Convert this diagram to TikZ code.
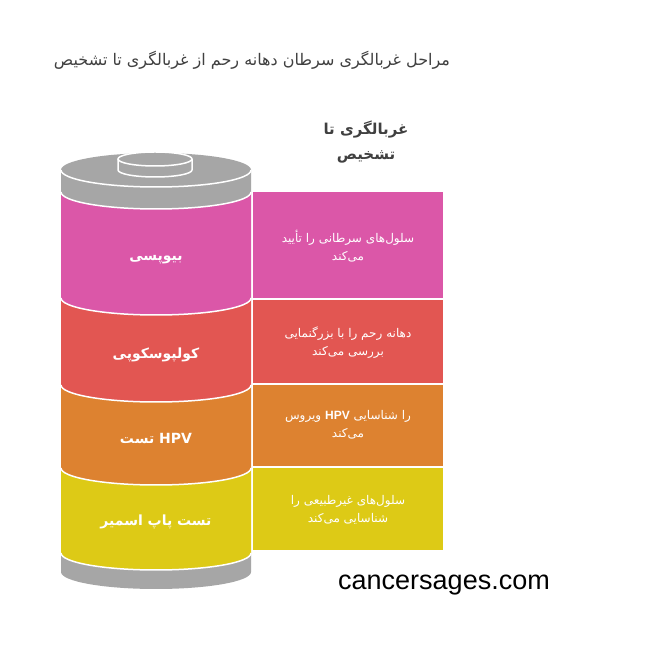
\documentclass[tikz,border=0pt]{standalone}
\usepackage{fontspec}
\setmainfont{Liberation Sans}
\TeXXeTstate=1
\newfontfamily\arabicfont[Script=Arabic]{DejaVu Sans}
\newcommand\rw[1]{\beginR #1\endR}
\definecolor{cpink}{RGB}{219,87,168}
\definecolor{cred}{RGB}{226,86,82}
\definecolor{corange}{RGB}{221,130,48}
\definecolor{cyellow}{RGB}{221,202,22}
\definecolor{cgrey}{RGB}{166,166,166}
\definecolor{ctitle}{RGB}{64,64,64}
\tikzset{
  seglabel/.style={text=white, font=\arabicfont\bfseries\fontsize{14}{18}\selectfont, align=center},
  boxtext/.style={text=white, font=\arabicfont\fontsize{12}{18}\selectfont, align=center},
  whiteline/.style={draw=white, line width=1.5pt},
  ell/.style={x radius=95pt, y radius=17pt},
  kell/.style={x radius=37pt, y radius=7pt}
}
\begin{document}
\begin{tikzpicture}[x=1pt,y=1pt]
\useasboundingbox (0,0) rectangle (664,666);
\fill[white] (0,0) rectangle (664,666);
% title
\node[text=ctitle, font=\arabicfont\fontsize{16}{18}\selectfont] (title) at (252,606)
  {\rw{تشخیص} \rw{تا} \rw{غربالگری} \rw{از} \rw{رحم} \rw{دهانه} \rw{سرطان} \rw{غربالگری} \rw{مراحل}};
\node[text=ctitle, font=\arabicfont\bfseries\fontsize{15}{25}\selectfont, align=center] (head) at (366,523.5)
  {\rw{تا} \rw{غربالگری}\\\rw{تشخیص}};
% cylinder segments
\fill[cgrey] (61,496) -- (61,474) arc[start angle=180,end angle=360,ell] -- (251,496) -- cycle;
\fill[cgrey] (156,496) ellipse[ell];
\fill[cpink] (61,474) arc[start angle=180,end angle=360,ell] -- (251,368) arc[start angle=0,end angle=-180,ell] -- cycle;
\fill[cred] (61,368) arc[start angle=180,end angle=360,ell] -- (251,281) arc[start angle=0,end angle=-180,ell] -- cycle;
\fill[corange] (61,281) arc[start angle=180,end angle=360,ell] -- (251,198) arc[start angle=0,end angle=-180,ell] -- cycle;
\fill[cyellow] (61,198) arc[start angle=180,end angle=360,ell] -- (251,113) arc[start angle=0,end angle=-180,ell] -- cycle;
\fill[cgrey] (61,113) arc[start angle=180,end angle=360,ell] -- (251,94) arc[start angle=0,end angle=-180,ell] -- cycle;
\foreach \yy in {496,474,368,281,198,113}
  \draw[whiteline] (61,\yy) arc[start angle=180,end angle=360,ell];
% knob
\draw[whiteline, fill=cgrey] (118,507) -- (118,496) arc[start angle=180,end angle=360,kell] -- (192,507);
\draw[whiteline, fill=cgrey] (155,507) ellipse[kell];
% segment labels
\node[seglabel] (l1) at (156,406) {\rw{بیوپسی}};
\node[seglabel] (l2) at (156,311) {\rw{کولپوسکوپی}};
\node[seglabel] (l3) at (156,228) {\rw{تست} HPV};
\node[seglabel] (l4) at (156,144) {\rw{اسمیر} \rw{پاپ} \rw{تست}};
% side boxes
\fill[cpink] (253,474) rectangle (443,368);
\fill[cred] (253,366) rectangle (443,283);
\fill[corange] (253,281) rectangle (443,200);
\fill[cyellow] (253,198) rectangle (443,116);
\node[boxtext] (t1) at (348,420) {\rw{تأیید} \rw{را} \rw{سرطانی} \rw{سلول‌های}\\\rw{می‌کند}};
\node[boxtext] (t2) at (348,323.5) {\rw{بزرگنمایی} \rw{با} \rw{را} \rw{رحم} \rw{دهانه}\\\rw{می‌کند} \rw{بررسی}};
\node[boxtext] (t3) at (348,241) {\rw{ویروس} {\fontspec{Liberation Sans}\bfseries HPV} \rw{شناسایی} \rw{را}\\\rw{می‌کند}};
\node[boxtext] (t4) at (348,156) {\rw{را} \rw{غیرطبیعی} \rw{سلول‌های}\\\rw{می‌کند} \rw{شناسایی}};
% watermark
\node[font=\fontsize{27}{30}\selectfont, text=black] (wm) at (444,81) {cancersages.com};
\end{tikzpicture}
\end{document}
